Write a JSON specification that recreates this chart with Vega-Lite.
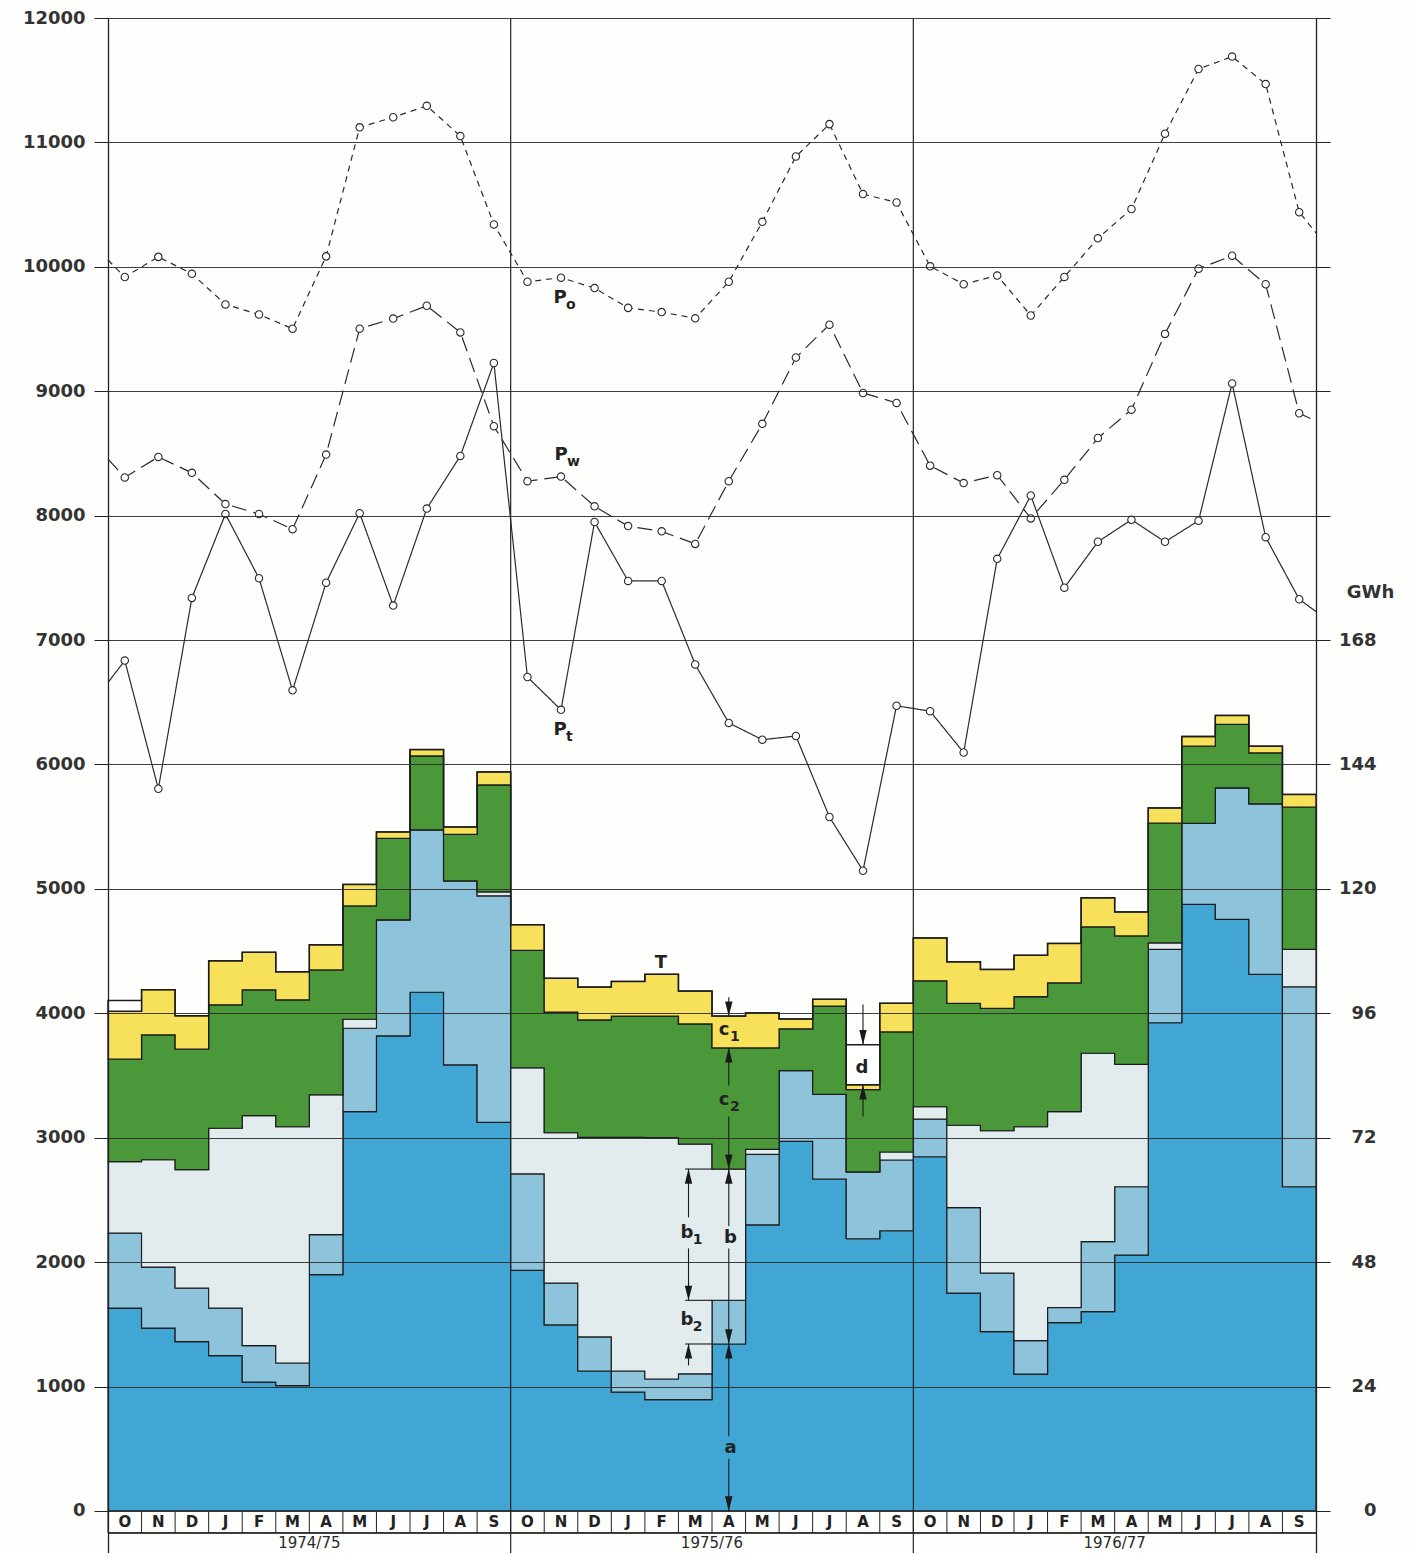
{
  "$schema": "https://vega.github.io/schema/vega-lite/v6.json",
  "width": 1208,
  "height": 1535,
  "autosize": "none",
  "padding": {"left": 108, "top": 18, "right": 94, "bottom": 0},
  "background": "#fefefc",
  "config": {"view": {"stroke": null}, "font": "DejaVu Sans"},
  "datasets": {
    "stack": [
      {"m":0,"a":1631,"b2":2233,"b1":2807,"c2":3631,"c1":4016,"d":4102},
      {"m":1,"a":1470,"b2":1960,"b1":2823,"c2":3827,"c1":4190,"d":4190},
      {"m":2,"a":1361,"b2":1791,"b1":2743,"c2":3712,"c1":3980,"d":3980},
      {"m":3,"a":1249,"b2":1631,"b1":3076,"c2":4068,"c1":4422,"d":4422},
      {"m":4,"a":1036,"b2":1329,"b1":3177,"c2":4189,"c1":4490,"d":4490},
      {"m":5,"a":1008,"b2":1189,"b1":3088,"c2":4108,"c1":4333,"d":4333},
      {"m":6,"a":1900,"b2":2221,"b1":3345,"c2":4349,"c1":4550,"d":4550},
      {"m":7,"a":3209,"b2":3880,"b1":3952,"c2":4863,"c1":5036,"d":5036},
      {"m":8,"a":3819,"b2":4751,"b1":4751,"c2":5406,"c1":5458,"d":5458},
      {"m":9,"a":4169,"b2":5474,"b1":5474,"c2":6068,"c1":6120,"d":6120},
      {"m":10,"a":3586,"b2":5064,"b1":5064,"c2":5438,"c1":5498,"d":5498},
      {"m":11,"a":3124,"b2":4944,"b1":4976,"c2":5835,"c1":5940,"d":5940},
      {"m":12,"a":1933,"b2":2709,"b1":3562,"c2":4505,"c1":4712,"d":4712},
      {"m":13,"a":1495,"b2":1831,"b1":3040,"c2":4010,"c1":4281,"d":4281},
      {"m":14,"a":1125,"b2":1399,"b1":3003,"c2":3946,"c1":4211,"d":4211},
      {"m":15,"a":955,"b2":1125,"b1":3003,"c2":3978,"c1":4256,"d":4256},
      {"m":16,"a":895,"b2":1061,"b1":3000,"c2":3978,"c1":4313,"d":4313},
      {"m":17,"a":895,"b2":1102,"b1":2949,"c2":3914,"c1":4179,"d":4179},
      {"m":18,"a":1342,"b2":1693,"b1":2748,"c2":3722,"c1":3978,"d":3978},
      {"m":19,"a":2300,"b2":2866,"b1":2907,"c2":3722,"c1":4003,"d":4003},
      {"m":20,"a":2971,"b2":3540,"b1":3540,"c2":3875,"c1":3955,"d":3955},
      {"m":21,"a":2668,"b2":3348,"b1":3348,"c2":4058,"c1":4112,"d":4112},
      {"m":22,"a":2188,"b2":2725,"b1":2725,"c2":3387,"c1":3425,"d":3748},
      {"m":23,"a":2252,"b2":2821,"b1":2885,"c2":3850,"c1":4080,"d":4080},
      {"m":24,"a":2847,"b2":3149,"b1":3249,"c2":4261,"c1":4606,"d":4606},
      {"m":25,"a":1751,"b2":2438,"b1":3100,"c2":4080,"c1":4414,"d":4414},
      {"m":26,"a":1442,"b2":1912,"b1":3056,"c2":4040,"c1":4353,"d":4353},
      {"m":27,"a":1100,"b2":1369,"b1":3088,"c2":4133,"c1":4466,"d":4466},
      {"m":28,"a":1514,"b2":1635,"b1":3209,"c2":4245,"c1":4562,"d":4562},
      {"m":29,"a":1602,"b2":2165,"b1":3679,"c2":4695,"c1":4928,"d":4928},
      {"m":30,"a":2056,"b2":2606,"b1":3590,"c2":4622,"c1":4815,"d":4815},
      {"m":31,"a":3924,"b2":4514,"b1":4566,"c2":5528,"c1":5651,"d":5651},
      {"m":32,"a":4876,"b2":5526,"b1":5526,"c2":6147,"c1":6225,"d":6225},
      {"m":33,"a":4755,"b2":5812,"b1":5812,"c2":6322,"c1":6394,"d":6394},
      {"m":34,"a":4313,"b2":5684,"b1":5684,"c2":6094,"c1":6147,"d":6147},
      {"m":35,"a":2606,"b2":4213,"b1":4514,"c2":5657,"c1":5759,"d":5759},
      {"m":36,"a":2606,"b2":4213,"b1":4514,"c2":5657,"c1":5759,"d":5759}
    ],
    "lines": [
      {"s":"Po","x":0,"v":10055,"pt":0},
      {"s":"Po","x":0.5,"v":9918,"pt":1},{"s":"Po","x":1.5,"v":10080,"pt":1},{"s":"Po","x":2.5,"v":9944,"pt":1},{"s":"Po","x":3.5,"v":9698,"pt":1},{"s":"Po","x":4.5,"v":9617,"pt":1},{"s":"Po","x":5.5,"v":9503,"pt":1},{"s":"Po","x":6.5,"v":10084,"pt":1},{"s":"Po","x":7.5,"v":11121,"pt":1},{"s":"Po","x":8.5,"v":11202,"pt":1},{"s":"Po","x":9.5,"v":11294,"pt":1},{"s":"Po","x":10.5,"v":11051,"pt":1},{"s":"Po","x":11.5,"v":10341,"pt":1},
      {"s":"Po","x":12.5,"v":9880,"pt":1},{"s":"Po","x":13.5,"v":9913,"pt":1},{"s":"Po","x":14.5,"v":9829,"pt":1},{"s":"Po","x":15.5,"v":9670,"pt":1},{"s":"Po","x":16.5,"v":9636,"pt":1},{"s":"Po","x":17.5,"v":9586,"pt":1},{"s":"Po","x":18.5,"v":9880,"pt":1},{"s":"Po","x":19.5,"v":10362,"pt":1},{"s":"Po","x":20.5,"v":10887,"pt":1},{"s":"Po","x":21.5,"v":11147,"pt":1},{"s":"Po","x":22.5,"v":10585,"pt":1},{"s":"Po","x":23.5,"v":10517,"pt":1},
      {"s":"Po","x":24.5,"v":10004,"pt":1},{"s":"Po","x":25.5,"v":9860,"pt":1},{"s":"Po","x":26.5,"v":9930,"pt":1},{"s":"Po","x":27.5,"v":9609,"pt":1},{"s":"Po","x":28.5,"v":9919,"pt":1},{"s":"Po","x":29.5,"v":10229,"pt":1},{"s":"Po","x":30.5,"v":10465,"pt":1},{"s":"Po","x":31.5,"v":11070,"pt":1},{"s":"Po","x":32.5,"v":11590,"pt":1},{"s":"Po","x":33.5,"v":11690,"pt":1},{"s":"Po","x":34.5,"v":11469,"pt":1},{"s":"Po","x":35.5,"v":10439,"pt":1},
      {"s":"Po","x":36,"v":10273,"pt":0},
      {"s":"Pw","x":0,"v":8454,"pt":0},
      {"s":"Pw","x":0.5,"v":8307,"pt":1},{"s":"Pw","x":1.5,"v":8472,"pt":1},{"s":"Pw","x":2.5,"v":8344,"pt":1},{"s":"Pw","x":3.5,"v":8093,"pt":1},{"s":"Pw","x":4.5,"v":8013,"pt":1},{"s":"Pw","x":5.5,"v":7891,"pt":1},{"s":"Pw","x":6.5,"v":8491,"pt":1},{"s":"Pw","x":7.5,"v":9503,"pt":1},{"s":"Pw","x":8.5,"v":9584,"pt":1},{"s":"Pw","x":9.5,"v":9687,"pt":1},{"s":"Pw","x":10.5,"v":9473,"pt":1},{"s":"Pw","x":11.5,"v":8719,"pt":1},
      {"s":"Pw","x":12.5,"v":8277,"pt":1},{"s":"Pw","x":13.5,"v":8314,"pt":1},{"s":"Pw","x":14.5,"v":8075,"pt":1},{"s":"Pw","x":15.5,"v":7916,"pt":1},{"s":"Pw","x":16.5,"v":7874,"pt":1},{"s":"Pw","x":17.5,"v":7773,"pt":1},{"s":"Pw","x":18.5,"v":8277,"pt":1},{"s":"Pw","x":19.5,"v":8738,"pt":1},{"s":"Pw","x":20.5,"v":9271,"pt":1},{"s":"Pw","x":21.5,"v":9535,"pt":1},{"s":"Pw","x":22.5,"v":8986,"pt":1},{"s":"Pw","x":23.5,"v":8906,"pt":1},
      {"s":"Pw","x":24.5,"v":8402,"pt":1},{"s":"Pw","x":25.5,"v":8262,"pt":1},{"s":"Pw","x":26.5,"v":8325,"pt":1},{"s":"Pw","x":27.5,"v":7978,"pt":1},{"s":"Pw","x":28.5,"v":8288,"pt":1},{"s":"Pw","x":29.5,"v":8624,"pt":1},{"s":"Pw","x":30.5,"v":8852,"pt":1},{"s":"Pw","x":31.5,"v":9461,"pt":1},{"s":"Pw","x":32.5,"v":9985,"pt":1},{"s":"Pw","x":33.5,"v":10089,"pt":1},{"s":"Pw","x":34.5,"v":9860,"pt":1},{"s":"Pw","x":35.5,"v":8823,"pt":1},
      {"s":"Pw","x":36,"v":8760,"pt":0},
      {"s":"Pt","x":0,"v":6659,"pt":0},
      {"s":"Pt","x":0.5,"v":6835,"pt":1},{"s":"Pt","x":1.5,"v":5805,"pt":1},{"s":"Pt","x":2.5,"v":7339,"pt":1},{"s":"Pt","x":3.5,"v":8013,"pt":1},{"s":"Pt","x":4.5,"v":7497,"pt":1},{"s":"Pt","x":5.5,"v":6596,"pt":1},{"s":"Pt","x":6.5,"v":7461,"pt":1},{"s":"Pt","x":7.5,"v":8020,"pt":1},{"s":"Pt","x":8.5,"v":7277,"pt":1},{"s":"Pt","x":9.5,"v":8057,"pt":1},{"s":"Pt","x":10.5,"v":8480,"pt":1},{"s":"Pt","x":11.5,"v":9227,"pt":1},
      {"s":"Pt","x":12.5,"v":6703,"pt":1},{"s":"Pt","x":13.5,"v":6439,"pt":1},{"s":"Pt","x":14.5,"v":7949,"pt":1},{"s":"Pt","x":15.5,"v":7475,"pt":1},{"s":"Pt","x":16.5,"v":7475,"pt":1},{"s":"Pt","x":17.5,"v":6804,"pt":1},{"s":"Pt","x":18.5,"v":6334,"pt":1},{"s":"Pt","x":19.5,"v":6199,"pt":1},{"s":"Pt","x":20.5,"v":6229,"pt":1},{"s":"Pt","x":21.5,"v":5578,"pt":1},{"s":"Pt","x":22.5,"v":5146,"pt":1},{"s":"Pt","x":23.5,"v":6472,"pt":1},
      {"s":"Pt","x":24.5,"v":6428,"pt":1},{"s":"Pt","x":25.5,"v":6096,"pt":1},{"s":"Pt","x":26.5,"v":7653,"pt":1},{"s":"Pt","x":27.5,"v":8162,"pt":1},{"s":"Pt","x":28.5,"v":7421,"pt":1},{"s":"Pt","x":29.5,"v":7790,"pt":1},{"s":"Pt","x":30.5,"v":7967,"pt":1},{"s":"Pt","x":31.5,"v":7790,"pt":1},{"s":"Pt","x":32.5,"v":7959,"pt":1},{"s":"Pt","x":33.5,"v":9063,"pt":1},{"s":"Pt","x":34.5,"v":7827,"pt":1},{"s":"Pt","x":35.5,"v":7328,"pt":1},
      {"s":"Pt","x":36,"v":7229,"pt":0}
    ],
    "months": [
      {"i":0,"c":0.5,"mon":"O"},{"i":1,"c":1.5,"mon":"N"},{"i":2,"c":2.5,"mon":"D"},{"i":3,"c":3.5,"mon":"J"},{"i":4,"c":4.5,"mon":"F"},{"i":5,"c":5.5,"mon":"M"},{"i":6,"c":6.5,"mon":"A"},{"i":7,"c":7.5,"mon":"M"},{"i":8,"c":8.5,"mon":"J"},{"i":9,"c":9.5,"mon":"J"},{"i":10,"c":10.5,"mon":"A"},{"i":11,"c":11.5,"mon":"S"},
      {"i":12,"c":12.5,"mon":"O"},{"i":13,"c":13.5,"mon":"N"},{"i":14,"c":14.5,"mon":"D"},{"i":15,"c":15.5,"mon":"J"},{"i":16,"c":16.5,"mon":"F"},{"i":17,"c":17.5,"mon":"M"},{"i":18,"c":18.5,"mon":"A"},{"i":19,"c":19.5,"mon":"M"},{"i":20,"c":20.5,"mon":"J"},{"i":21,"c":21.5,"mon":"J"},{"i":22,"c":22.5,"mon":"A"},{"i":23,"c":23.5,"mon":"S"},
      {"i":24,"c":24.5,"mon":"O"},{"i":25,"c":25.5,"mon":"N"},{"i":26,"c":26.5,"mon":"D"},{"i":27,"c":27.5,"mon":"J"},{"i":28,"c":28.5,"mon":"F"},{"i":29,"c":29.5,"mon":"M"},{"i":30,"c":30.5,"mon":"A"},{"i":31,"c":31.5,"mon":"M"},{"i":32,"c":32.5,"mon":"J"},{"i":33,"c":33.5,"mon":"J"},{"i":34,"c":34.5,"mon":"A"},{"i":35,"c":35.5,"mon":"S"}
    ],
    "years": [
      {"start":0,"mid":6,"lab":"1974/75"},
      {"start":12,"mid":18,"lab":"1975/76"},
      {"start":24,"mid":30,"lab":"1976/77"}
    ],
    "shaft": [
      {"m":18.5,"v1":0,"v2":420},
      {"m":18.5,"v1":600,"v2":2110},
      {"m":18.5,"v1":2290,"v2":3170},
      {"m":18.5,"v1":3420,"v2":3722},
      {"m":18.5,"v1":3978,"v2":4130},
      {"m":17.3,"v1":1693,"v2":2110},
      {"m":17.3,"v1":2360,"v2":2748},
      {"m":17.3,"v1":1170,"v2":1342},
      {"m":22.5,"v1":3748,"v2":4070},
      {"m":22.5,"v1":3170,"v2":3425}
    ],
    "tick": [
      {"m1":17.2,"m2":18,"v":2748},
      {"m1":17.2,"m2":18,"v":1693},
      {"m1":17.2,"m2":18,"v":1342}
    ],
    "arr": [
      {"m":18.5,"v":58,"dir":"down"},
      {"m":18.5,"v":1284,"dir":"up"},
      {"m":18.5,"v":1400,"dir":"down"},
      {"m":18.5,"v":2690,"dir":"up"},
      {"m":18.5,"v":2806,"dir":"down"},
      {"m":18.5,"v":3664,"dir":"up"},
      {"m":18.5,"v":4036,"dir":"down"},
      {"m":17.3,"v":2690,"dir":"up"},
      {"m":17.3,"v":1751,"dir":"down"},
      {"m":17.3,"v":1284,"dir":"up"},
      {"m":22.5,"v":3806,"dir":"down"},
      {"m":22.5,"v":3367,"dir":"up"}
    ],
    "lab": [
      {"m":13.47,"v":9751,"t":"P"},
      {"m":13.5,"v":8489,"t":"P"},
      {"m":13.47,"v":6278,"t":"P"},
      {"m":16.48,"v":4405,"t":"T"},
      {"m":18.36,"v":3866,"t":"c"},
      {"m":18.36,"v":3304,"t":"c"},
      {"m":17.25,"v":2235,"t":"b"},
      {"m":17.25,"v":1535,"t":"b"},
      {"m":18.55,"v":2195,"t":"b"},
      {"m":18.55,"v":506,"t":"a"},
      {"m":22.47,"v":3561,"t":"d"}
    ],
    "sub": [
      {"m":13.47,"v":9751,"t":"o"},
      {"m":13.5,"v":8489,"t":"w"},
      {"m":13.47,"v":6278,"t":"t"},
      {"m":18.36,"v":3866,"t":"1"},
      {"m":18.36,"v":3304,"t":"2"},
      {"m":17.25,"v":2235,"t":"1"},
      {"m":17.25,"v":1535,"t":"2"}
    ]
  },
  "layer": [
    {
      "layer": [
        {
          "data": {"name": "stack"},
          "mark": {"type": "area", "interpolate": "step-after", "fill": "#42a6d4", "stroke": "#1c1c1c", "strokeWidth": 1.2},
          "encoding": {
            "x": {"field": "m", "type": "quantitative", "scale": {"domain": [0, 36], "nice": false, "zero": false}, "axis": null, "title": null},
            "y": {"field": "a", "type": "quantitative", "title": null,
              "scale": {"domain": [-338, 12000], "nice": false, "zero": false},
              "axis": {"orient": "left", "values": [0,1000,2000,3000,4000,5000,6000,7000,8000,9000,10000,11000,12000], "format": "d",
                "grid": true, "gridColor": "#2a2a2a", "gridWidth": 1, "gridOpacity": 0.9,
                "domainColor": "#222", "domainWidth": 1.3, "tickColor": "#222", "tickWidth": 1, "tickSize": 14,
                "labelFont": "DejaVu Sans", "labelFontSize": 18, "labelFontWeight": "bold", "labelColor": "#333",
                "labelPadding": 9, "labelFlush": false, "labelOverlap": false, "title": null, "zindex": 1}},
            "y2": {"datum": 0}
          }
        },
        {
          "data": {"name": "stack"},
          "mark": {"type": "area", "interpolate": "step-after", "fill": "#8dc4dc", "stroke": "#1c1c1c", "strokeWidth": 1.2},
          "encoding": {
            "x": {"field": "m", "type": "quantitative", "title": null},
            "y": {"field": "a", "type": "quantitative", "title": null},
            "y2": {"field": "b2"}
          }
        },
        {
          "data": {"name": "stack"},
          "mark": {"type": "area", "interpolate": "step-after", "fill": "#e2ecee", "stroke": "#1c1c1c", "strokeWidth": 1.1},
          "encoding": {
            "x": {"field": "m", "type": "quantitative", "title": null},
            "y": {"field": "b2", "type": "quantitative", "title": null},
            "y2": {"field": "b1"}
          }
        },
        {
          "data": {"name": "stack"},
          "mark": {"type": "area", "interpolate": "step-after", "fill": "#4a983a", "stroke": "#1c1c1c", "strokeWidth": 1.2},
          "encoding": {
            "x": {"field": "m", "type": "quantitative", "title": null},
            "y": {"field": "b1", "type": "quantitative", "title": null},
            "y2": {"field": "c2"}
          }
        },
        {
          "data": {"name": "stack"},
          "mark": {"type": "area", "interpolate": "step-after", "fill": "#f7e05a", "stroke": "#1c1c1c", "strokeWidth": 1.3},
          "encoding": {
            "x": {"field": "m", "type": "quantitative", "title": null},
            "y": {"field": "c2", "type": "quantitative", "title": null},
            "y2": {"field": "c1"}
          }
        },
        {
          "data": {"name": "stack"},
          "mark": {"type": "area", "interpolate": "step-after", "fill": "#ffffff", "stroke": "#1c1c1c", "strokeWidth": 1.5},
          "encoding": {
            "x": {"field": "m", "type": "quantitative", "title": null},
            "y": {"field": "c1", "type": "quantitative", "title": null},
            "y2": {"field": "d"}
          }
        },
        {
          "data": {"name": "years"},
          "transform": [{"filter": "datum.start > 0"}],
          "mark": {"type": "rule", "color": "#222", "strokeWidth": 1.2},
          "encoding": {
            "x": {"field": "start", "type": "quantitative", "title": null},
            "y": {"datum": 12000},
            "y2": {"datum": -338}
          }
        },
        {
          "data": {"name": "months"},
          "mark": {"type": "rule", "color": "#222", "strokeWidth": 1},
          "encoding": {
            "x": {"field": "i", "type": "quantitative", "title": null},
            "y": {"datum": 0},
            "y2": {"datum": -177}
          }
        },
        {
          "data": {"name": "years"},
          "mark": {"type": "rule", "color": "#222", "strokeWidth": 1},
          "encoding": {
            "x": {"datum": 0},
            "x2": {"datum": 36},
            "y": {"datum": -177}
          }
        },
        {
          "data": {"name": "months"},
          "mark": {"type": "text", "font": "DejaVu Sans", "fontSize": 15, "fontWeight": "bold", "color": "#222", "baseline": "middle", "align": "center"},
          "encoding": {
            "x": {"field": "c", "type": "quantitative", "title": null},
            "y": {"datum": -88},
            "text": {"field": "mon"}
          }
        },
        {
          "data": {"name": "years"},
          "mark": {"type": "text", "font": "DejaVu Sans", "fontSize": 15, "color": "#2a2a2a", "baseline": "middle", "align": "center"},
          "encoding": {
            "x": {"field": "mid", "type": "quantitative", "title": null},
            "y": {"datum": -258},
            "text": {"field": "lab"}
          }
        },
        {
          "data": {"name": "lines"},
          "mark": {"type": "line", "color": "#2a2a2a", "strokeWidth": 1.2},
          "encoding": {
            "x": {"field": "x", "type": "quantitative", "title": null},
            "y": {"field": "v", "type": "quantitative", "title": null},
            "strokeDash": {"field": "s", "type": "nominal", "legend": null,
              "scale": {"domain": ["Po", "Pw", "Pt"], "range": [[6, 5], [15, 7], [1, 0]]}}
          }
        },
        {
          "data": {"name": "lines"},
          "transform": [{"filter": "datum.pt == 1"}],
          "mark": {"type": "point", "shape": "circle", "size": 55, "filled": true, "fill": "#ffffff", "stroke": "#2a2a2a", "strokeWidth": 1.1, "opacity": 1},
          "encoding": {
            "x": {"field": "x", "type": "quantitative", "title": null},
            "y": {"field": "v", "type": "quantitative", "title": null}
          }
        },
        {
          "data": {"name": "shaft"},
          "mark": {"type": "rule", "color": "#1a1a1a", "strokeWidth": 1.1},
          "encoding": {
            "x": {"field": "m", "type": "quantitative", "title": null},
            "y": {"field": "v1", "type": "quantitative", "title": null},
            "y2": {"field": "v2"}
          }
        },
        {
          "data": {"name": "tick"},
          "mark": {"type": "rule", "color": "#1a1a1a", "strokeWidth": 1.1},
          "encoding": {
            "x": {"field": "m1", "type": "quantitative", "title": null},
            "x2": {"field": "m2"},
            "y": {"field": "v", "type": "quantitative", "title": null}
          }
        },
        {
          "data": {"name": "arr"},
          "mark": {"type": "point", "filled": true, "color": "#1a1a1a", "size": 220, "opacity": 1},
          "encoding": {
            "x": {"field": "m", "type": "quantitative", "title": null},
            "y": {"field": "v", "type": "quantitative", "title": null},
            "shape": {"field": "dir", "type": "nominal", "legend": null,
              "scale": {"domain": ["up", "down"], "range": ["M0,-1L0.5,1L-0.5,1Z", "M0,1L0.5,-1L-0.5,-1Z"]}}
          }
        },
        {
          "data": {"name": "lab"},
          "mark": {"type": "text", "font": "DejaVu Sans", "fontSize": 18, "fontWeight": "bold", "color": "#222", "baseline": "middle", "align": "center"},
          "encoding": {
            "x": {"field": "m", "type": "quantitative", "title": null},
            "y": {"field": "v", "type": "quantitative", "title": null},
            "text": {"field": "t"}
          }
        },
        {
          "data": {"name": "sub"},
          "mark": {"type": "text", "font": "DejaVu Sans", "fontSize": 14, "fontWeight": "bold", "color": "#222", "baseline": "middle", "align": "left", "dx": 6, "dy": 7},
          "encoding": {
            "x": {"field": "m", "type": "quantitative", "title": null},
            "y": {"field": "v", "type": "quantitative", "title": null},
            "text": {"field": "t"}
          }
        }
      ]
    },
    {
      "data": {"name": "years"},
      "mark": {"type": "rule", "opacity": 0},
      "encoding": {
        "y": {"datum": 0, "type": "quantitative",
          "scale": {"domain": [-338, 12000], "nice": false, "zero": false},
          "axis": {"orient": "right", "values": [0,1000,2000,3000,4000,5000,6000,7000,8000,9000,10000,11000,12000],
            "labelExpr": "datum.value <= 7000 ? format(datum.value * 0.024, 'd') : ''",
            "grid": false, "domainColor": "#222", "domainWidth": 1.3, "tickColor": "#222", "tickWidth": 1, "tickSize": 14,
            "labelFont": "DejaVu Sans", "labelFontSize": 18, "labelFontWeight": "bold", "labelColor": "#333",
            "labelAlign": "right", "labelPadding": 46, "labelFlush": false, "labelOverlap": false,
            "title": "GWh", "titleAngle": 0, "titleX": 54, "titleY": 574, "titleAlign": "center", "titleBaseline": "middle",
            "titleFont": "DejaVu Sans", "titleFontSize": 18, "titleFontWeight": "bold", "titleColor": "#333", "zindex": 1}}
      }
    }
  ],
  "resolve": {"scale": {"y": "independent"}}
}
